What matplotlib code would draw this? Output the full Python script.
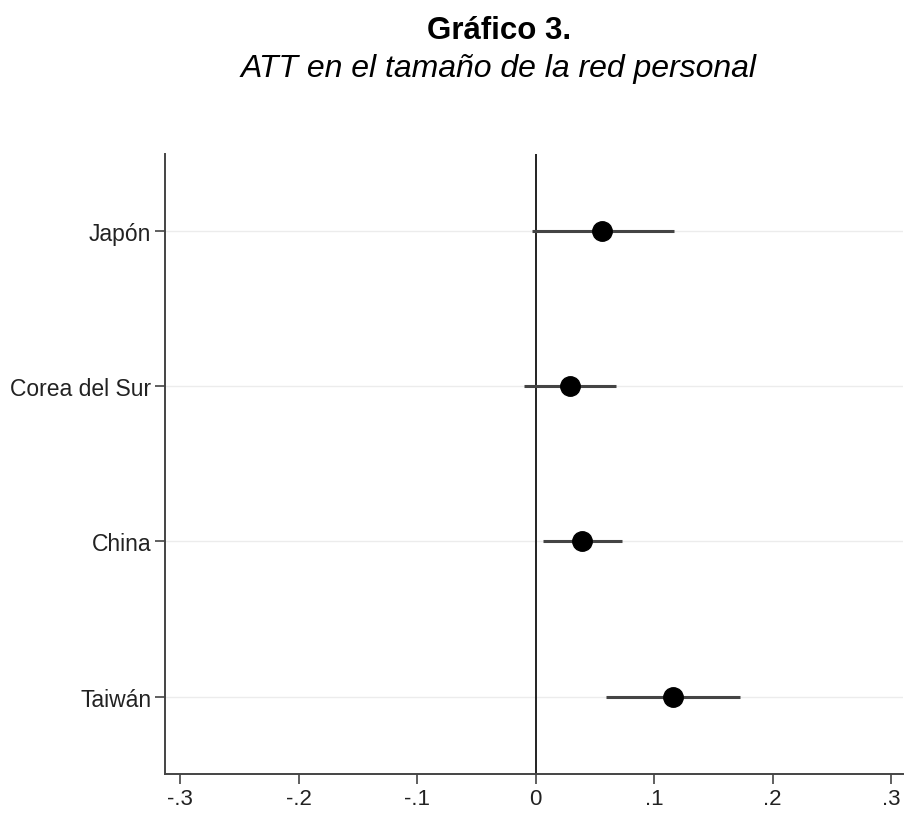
import matplotlib.pyplot as plt

plt.rcParams['font.family'] = ['Liberation Sans', 'DejaVu Sans']

# Estimates and 95% intervals
countries = ["Japón", "Corea del Sur", "China", "Taiwán"]
att = [0.0557, 0.0287, 0.0388, 0.1156]
ci_low = [-0.0034, -0.0100, 0.0060, 0.0590]
ci_high = [0.1165, 0.0680, 0.0730, 0.1720]
x_ticks = [-0.3, -0.2, -0.1, 0, 0.1, 0.2, 0.3]
x_tick_labels = ["-.3", "-.2", "-.1", "0", ".1", ".2", ".3"]

fig = plt.figure(figsize=(9.24, 8.29), dpi=100)
ax = fig.add_axes([0.1786, 0.0651, 0.7987, 0.748])

ypos = list(range(1, len(countries) + 1))

# light horizontal grid at each category
for y in ypos:
    ax.axhline(y, color="#ececec", linewidth=1, zorder=0)

ax.axvline(0, color="#222222", linewidth=1.4, zorder=1)

ax.hlines(ypos, ci_low, ci_high, color="#444444", linewidth=2.2, zorder=2)
ax.plot(att, ypos, "o", color="black", markersize=14, zorder=3)

ax.set_xlim(-0.313, 0.31)
ax.set_ylim(4.5, 0.5)
ax.set_yticks(ypos)
ax.set_yticklabels(countries, fontsize=16.5, color="#222222")
ax.set_xticks(x_ticks)
ax.set_xticklabels(x_tick_labels, fontsize=16, color="#222222")
ax.tick_params(axis="both", length=7, width=1.2, color="#444444",
               direction="out", pad=3)

for side in ["top", "right"]:
    ax.spines[side].set_visible(False)
for side in ["left", "bottom"]:
    ax.spines[side].set_color("#444444")
    ax.spines[side].set_linewidth(1.4)

fig.text(0.540, 0.963, "Gráfico 3.", ha="center", va="center",
         fontsize=22.5, fontweight="bold")
fig.text(0.540, 0.917, "ATT en el tamaño de la red personal", ha="center",
         va="center", fontsize=23, fontstyle="italic")

plt.savefig("out.png", dpi=100)
